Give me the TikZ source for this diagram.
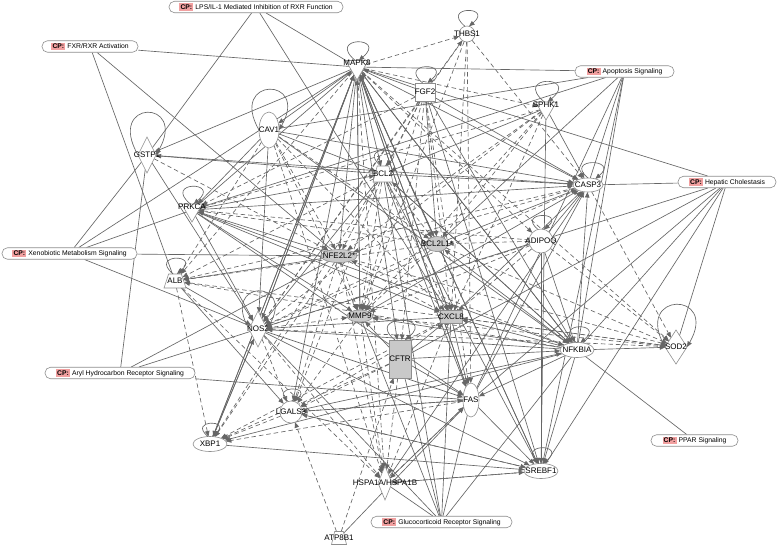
\documentclass[tikz,border=0pt]{standalone}
\usepackage{fontspec}
\setmainfont{Liberation Sans}
\usetikzlibrary{shapes.geometric,arrows.meta}
\definecolor{lncol}{HTML}{666666}
\definecolor{ndcol}{HTML}{8E8E8E}
\definecolor{gfill}{HTML}{C9C9C9}
\definecolor{cppink}{HTML}{F2A0A0}
\pgfdeclarelayer{bglayer}
\pgfdeclarelayer{edgelayer}
\pgfsetlayers{bglayer,edgelayer,main}
\newcommand{\cptag}{{\setlength{\fboxsep}{1.2pt}\colorbox{cppink}{\textbf{CP:}}}\hspace{2pt}}
\tikzset{
  gene/.style={draw=ndcol, fill=white, line width=0.6pt, inner sep=0pt, outer sep=0pt},
  glab/.style={font=\fontsize{8}{9}\selectfont, text=black, inner sep=0pt},
  kin/.style={gene, regular polygon, regular polygon sides=3, shape border rotate=180},
  ell/.style={gene, ellipse},
  dia/.style={gene, diamond},
  trap/.style={gene, trapezium, trapezium left angle=70, trapezium right angle=70, trapezium stretches=true, inner sep=1pt},
  box/.style={gene, rectangle},
  grayf/.style={fill=gfill},
  cp/.style={draw=ndcol, fill=white, line width=0.6pt, rounded corners=5.5pt, minimum height=11.5pt, inner sep=0pt, font=\fontsize{6.8}{8}\selectfont},
  sol/.style={draw=lncol, line width=0.65pt, -{Triangle[length=5.5pt,width=4.5pt]}},
  dsh/.style={sol, dash pattern=on 4.5pt off 3pt},
  cpl/.style={draw=lncol, line width=0.65pt},
  lp/.style={sol, out=140, in=40, looseness=0.1, min distance=#1},
  bigl/.style={sol, out=120, in=60, looseness=0.1, min distance=#1},
}
\begin{document}
\begin{tikzpicture}[x=1pt,y=-1pt]
\begin{pgfonlayer}{bglayer}
\fill[white] (0,0) rectangle (778,547);
\end{pgfonlayer}
\useasboundingbox (0,0) rectangle (778,547);

% ---------- canonical pathway boxes ----------
\node[cp, minimum width=174pt] (cplps) at (256,7) {\cptag LPS/IL-1 Mediated Inhibition of RXR Function};
\node[cp, minimum width=96pt] (cpfxr) at (90,46.5) {\cptag FXR/RXR Activation};
\node[cp, minimum width=99pt] (cpapo) at (624.5,71.5) {\cptag Apoptosis Signaling};
\node[cp, minimum width=98pt] (cphep) at (727,182) {\cptag Hepatic Cholestasis};
\node[cp, minimum width=135pt] (cpxen) at (69.5,253.5) {\cptag Xenobiotic Metabolism Signaling};
\node[cp, minimum width=150pt] (cpahr) at (120,373) {\cptag Aryl Hydrocarbon Receptor Signaling};
\node[cp, minimum width=87pt] (cpppar) at (694.5,440.5) {\cptag PPAR Signaling};
\node[cp, minimum width=141pt] (cpglu) at (441.5,522) {\cptag Glucocorticoid Receptor Signaling};

% ---------- molecules ----------
\node[kin, minimum size=26pt, label={[glab,yshift=4pt]center:MAPK8}] (mapk8) at (357,67) {};
\node[ell, minimum width=16pt, minimum height=16pt, label={[glab]center:THBS1}] (thbs1) at (467,34) {};
\node[box, minimum width=20pt, minimum height=18pt, label={[glab]center:FGF2}] (fgf2) at (425,92) {};
\node[kin, minimum size=24pt, label={[glab,yshift=3pt]center:SPHK1}] (sphk1) at (546,108) {};
\node[ell, minimum width=20pt, minimum height=36pt, label={[glab]center:CAV1}] (cav1) at (269,130) {};
\node[dia, minimum width=18pt, minimum height=36pt, label={[glab]center:GSTP1}] (gstp1) at (147,155) {};
\node[trap, minimum width=20pt, minimum height=16pt, label={[glab]center:BCL2}] (bcl2) at (383,174) {};
\node[ell, minimum width=30pt, minimum height=14pt, label={[glab]center:CASP3}] (casp3) at (588,185) {};
\node[kin, minimum size=24pt, label={[glab,yshift=3pt]center:PRKCA}] (prkca) at (192,210) {};
\node[ell, grayf, minimum width=36pt, minimum height=13pt, label={[glab]center:NFE2L2*}] (nfe) at (339,256) {};
\node[ell, grayf, minimum width=22pt, minimum height=15pt, label={[glab]center:BCL2L1*}] (bcll) at (437,244) {};
\node[ell, minimum width=24pt, minimum height=24pt, label={[glab]center:ADIPOQ}] (adipoq) at (541,241) {};
\node[trap, minimum width=22pt, minimum height=14pt, label={[glab]center:ALB}] (alb) at (175,281) {};
\node[dia, minimum width=18pt, minimum height=36pt, label={[glab]center:NOS2}] (nos2) at (258,329) {};
\node[ell, grayf, minimum width=26pt, minimum height=12pt, label={[glab]center:MMP9}] (mmp9) at (360,316) {};
\node[box, grayf, minimum width=22pt, minimum height=13pt, label={[glab]center:CXCL8}] (cxcl8) at (451,317) {};
\node[box, grayf, minimum width=22pt, minimum height=38pt, label={[glab]center:CFTR}] (cftr) at (400,359) {};
\node[ell, minimum width=34pt, minimum height=15pt, label={[glab]center:NFKBIA}] (nfkbia) at (577,350) {};
\node[dia, minimum width=22pt, minimum height=34pt, label={[glab]center:SOD2}] (sod2) at (676,347) {};
\node[ell, minimum width=16pt, minimum height=34pt, label={[glab]center:FAS}] (fas) at (471,400) {};
\node[ell, minimum width=22pt, minimum height=22pt, label={[glab]center:LGALS3}] (lgals3) at (291,412) {};
\node[ell, minimum width=34pt, minimum height=15pt, label={[glab]center:XBP1}] (xbp1) at (210,444) {};
\node[ell, minimum width=34pt, minimum height=15pt, label={[glab]center:SREBF1}] (srebf1) at (541,471) {};
\node[dia, minimum width=14pt, minimum height=34pt, label={[glab]center:HSPA1A/HSPA1B}] (hspa) at (385,483) {};
\node[trap, minimum width=15pt, minimum height=13pt, label={[glab]center:ATP8B1}] (atp8b1) at (339,538) {};

\begin{pgfonlayer}{edgelayer}
% ---------- pathway membership lines ----------
\foreach \a/\b in {cplps/gstp1, cplps/mapk8, cplps/cxcl8,
  cpfxr/mapk8, cpfxr/alb, cpfxr/nfe,
  cpapo/mapk8, cpapo/cav1, cpapo/prkca, cpapo/bcll, cpapo/casp3, cpapo/nfkbia, cpapo/fas, cpapo/srebf1,
  cphep/mapk8, cphep/casp3, cphep/nos2, cphep/nfkbia, cphep/fas, cphep/srebf1, cphep/cftr, cphep/sod2,
  cpxen/gstp1, cpxen/prkca, cpxen/mapk8, cpxen/nfe, cpxen/nos2,
  cpahr/gstp1, cpahr/nfe, cpahr/nos2, cpahr/fas,
  cpppar/nfkbia,
  cpglu/hspa, cpglu/cftr, cpglu/mmp9, cpglu/cxcl8, cpglu/bcl2, cpglu/nfkbia, cpglu/fas, cpglu/nos2}
  \draw[cpl] (\a) -- (\b);

% ---------- solid relationships ----------
\foreach \a/\b in {fgf2/mapk8, prkca/mapk8, nos2/mapk8, cxcl8/mapk8, mmp9/mapk8, fas/mapk8,
  nfkbia/mapk8, srebf1/mapk8, xbp1/mapk8, mapk8/bcl2, mapk8/casp3, mapk8/bcll, mapk8/nfe,
  mapk8/gstp1, mapk8/cav1, gstp1/casp3, gstp1/nos2, prkca/casp3, prkca/bcl2, prkca/nfkbia,
  prkca/mmp9, prkca/nos2, prkca/cxcl8, cav1/nos2, cav1/bcl2, cav1/casp3, bcl2/casp3, bcl2/fas,
  bcl2/srebf1, bcl2/nfkbia, bcll/casp3, nfkbia/casp3, nfkbia/bcl2, nfkbia/bcll, nfkbia/nos2,
  nfkbia/mmp9, nfkbia/cxcl8, nfkbia/fas, nfkbia/srebf1, nfkbia/sod2, nfkbia/xbp1, cxcl8/casp3,
  cxcl8/nos2, cxcl8/fas, cftr/cxcl8, cftr/mmp9, cftr/fas, cftr/nfkbia, mmp9/casp3, fas/casp3,
  fas/srebf1, lgals3/fas, lgals3/nfkbia, xbp1/srebf1, xbp1/nos2, nos2/srebf1, nos2/fas,
  sphk1/casp3, sphk1/bcl2, sphk1/srebf1, fgf2/casp3, fgf2/nfkbia, fgf2/srebf1, fgf2/bcll,
  adipoq/nfkbia, adipoq/casp3, adipoq/srebf1, hspa/fas, hspa/casp3, hspa/srebf1, lgals3/srebf1,
  atp8b1/fas, nfe/alb, nfe/prkca, bcl2/nos2, mapk8/lgals3, prkca/fas, cav1/prkca, bcl2/gstp1,
  cav1/nfkbia, alb/nos2, alb/lgals3, nos2/xbp1, mapk8/cftr, mapk8/srebf1, mapk8/fas,
  mapk8/nfkbia, mapk8/nos2, mapk8/mmp9, mapk8/cxcl8, mapk8/xbp1}
  \draw[sol] (\a) -- (\b);

% ---------- dashed relationships ----------
\foreach \a/\b in {mapk8/thbs1, mapk8/sphk1, mapk8/sod2, mapk8/alb, mapk8/adipoq, mapk8/hspa,
  fgf2/thbs1, fgf2/bcl2, fgf2/mmp9, fgf2/cxcl8, fgf2/nos2, fgf2/prkca, fgf2/nfe, fgf2/fas, fgf2/cftr,
  thbs1/mmp9, thbs1/cxcl8, thbs1/nos2, thbs1/fas, thbs1/casp3,
  sphk1/bcll, sphk1/nfe, sphk1/nos2, sphk1/mmp9, sphk1/prkca, sphk1/cxcl8,
  cav1/mmp9, cav1/cxcl8, cav1/bcll, cav1/nfe, cav1/hspa, cav1/alb,
  gstp1/nfe, bcl2/mmp9, bcl2/cxcl8, bcl2/bcll, bcl2/alb, bcl2/xbp1, bcl2/lgals3,
  casp3/nfe, casp3/nos2, casp3/sod2, casp3/alb,
  bcll/nos2, bcll/sod2, bcll/alb, bcll/prkca, bcll/mmp9,
  adipoq/bcll, adipoq/mmp9, adipoq/nos2, adipoq/cxcl8, adipoq/prkca, adipoq/sod2,
  nfe/mmp9, nfe/cxcl8, nfe/hspa, nfe/lgals3, nfe/xbp1, nfe/sod2,
  nos2/hspa, nos2/lgals3, nos2/mmp9, mmp9/lgals3, mmp9/hspa,
  cxcl8/lgals3, cxcl8/sod2, cxcl8/xbp1, cxcl8/alb, cxcl8/hspa,
  cftr/lgals3, cftr/xbp1, cftr/hspa, nfkbia/alb, nfkbia/nfe,
  sod2/nos2, sod2/cxcl8, sod2/mmp9, fas/lgals3, fas/xbp1, fas/hspa,
  srebf1/hspa, srebf1/lgals3, alb/xbp1, alb/hspa, atp8b1/lgals3, atp8b1/cftr, lgals3/xbp1}
  \draw[dsh] (\a) -- (\b);
\end{pgfonlayer}

% ---------- self loops ----------
\draw[lp=38pt] (mapk8.105) to (mapk8.75);
\draw[lp=32pt] (thbs1.105) to (thbs1.75);
\draw[lp=33pt] (fgf2.105) to (fgf2.75);
\draw[lp=42pt] (sphk1.105) to (sphk1.75);
\draw[bigl=62pt] (cav1.west) to (cav1.east);
\draw[bigl=65pt] (gstp1.west) to (gstp1.east);
\draw[lp=32pt] (bcl2.105) to (bcl2.75);
\draw[lp=32pt] (casp3.90) to (casp3.40);
\draw[lp=36pt] (prkca.105) to (prkca.75);
\draw[lp=28pt] (adipoq.105) to (adipoq.75);
\draw[lp=32pt] (alb.105) to (alb.75);
\draw[bigl=58pt] (nos2.west) to (nos2.east);
\draw[lp=27pt] (mmp9.105) to (mmp9.75);
\draw[lp=40pt] (cftr.105) to (cftr.75);
\draw[lp=32pt] (nfkbia.95) to (nfkbia.65);
\draw[bigl=65pt] (sod2.west) to (sod2.east);
\draw[lp=25pt] (lgals3.105) to (lgals3.75);
\draw[lp=27pt] (xbp1.105) to (xbp1.75);
\draw[lp=32pt] (srebf1.105) to (srebf1.75);
\end{tikzpicture}
\end{document}
